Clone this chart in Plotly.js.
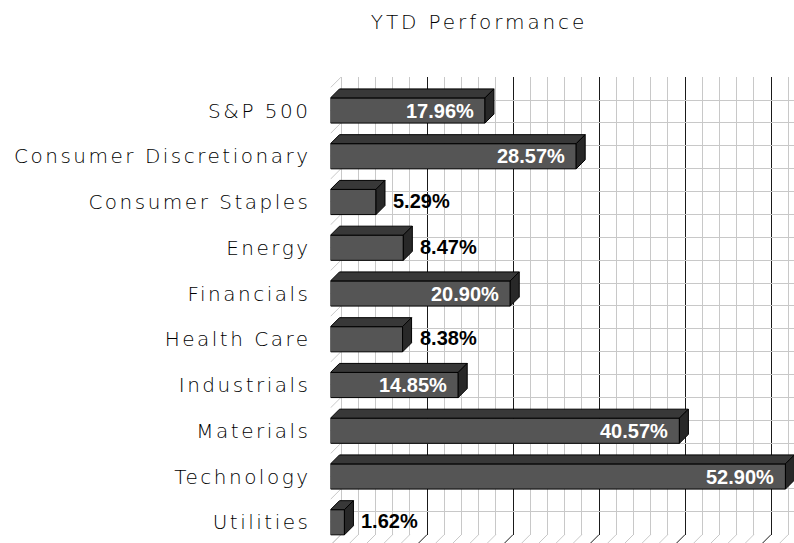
<!DOCTYPE html>
<html>
<head>
<meta charset="utf-8">
<script src="https://cdn.plot.ly/plotly-3.0.1.min.js"></script>
<style>
  html, body { margin: 0; padding: 0; background: #fff; }
  #chart { width: 794px; height: 543px; }
  .y2tick text { letter-spacing: 2.5px; }
  .gtitle { letter-spacing: 2.9px; }
</style>
</head>
<body>
<div id="chart"></div>
<script>
// ---- data ----
const categories = ['S&P 500', 'Consumer Discretionary', 'Consumer Staples', 'Energy', 'Financials',
                    'Health Care', 'Industrials', 'Materials', 'Technology', 'Utilities'];
const values = [17.96, 28.57, 5.29, 8.47, 20.90, 8.38, 14.85, 40.57, 52.90, 1.62];
const valueLabels = ['17.96%', '28.57%', '5.29%', '8.47%', '20.90%', '8.38%', '14.85%', '40.57%', '52.90%', '1.62%'];
const chartTitle = 'YTD Performance';
const majorStep = 10;
const minorStep = 2;

// ---- geometry (pixels) ----
const W = 794, H = 543;
const PX = 8.6;        // pixels per percent
const F0 = 330.5;      // front zero position
const WALL = 10.5;     // depth of the back wall
const BDEP = 9;        // depth of each bar
const CAT = 45.75;     // category spacing
const C0 = 110.5;      // centre of first category (front)
const BARH = 0.55;     // bar thickness in category units
const n = categories.length;

const WX = WALL / PX, WY = WALL / CAT;
const BX = BDEP / PX, BY = BDEP / CAT;

const xFrontMax = (W - F0) / PX;
const xBackMax = (W - F0 - WALL) / PX;
const wallTop = C0 - WALL - CAT / 2;
const wallBot = wallTop + n * CAT;

const idx = categories.map((_, i) => i);

// invisible trace so that the back-wall subplot is built
const wallAnchor = {
  type: 'scatter', mode: 'markers', x: [0], y: [0], xaxis: 'x', yaxis: 'y',
  marker: { opacity: 0, size: 1 }, hoverinfo: 'skip'
};

// front faces
const bars = {
  type: 'bar', orientation: 'h', x: values, y: idx, width: BARH,
  xaxis: 'x2', yaxis: 'y2',
  marker: { color: '#555555', line: { color: '#000000', width: 1 } },
  hoverinfo: 'skip'
};

// top and side faces
const topX = [], topY = [], sideX = [], sideY = [];
values.forEach((v, i) => {
  const y0 = i - BARH / 2, y1 = i + BARH / 2;
  topX.push(0, v, v + BX, BX, 0, null);
  topY.push(y0, y0, y0 - BY, y0 - BY, y0, null);
  sideX.push(v, v, v + BX, v + BX, v, null);
  sideY.push(y0, y1, y1 - BY, y0 - BY, y0, null);
});
const tops = {
  type: 'scatter', mode: 'lines', x: topX, y: topY, xaxis: 'x2', yaxis: 'y2',
  fill: 'toself', fillcolor: '#383838', line: { color: '#000', width: 1 }, hoverinfo: 'skip'
};
const sides = {
  type: 'scatter', mode: 'lines', x: sideX, y: sideY, xaxis: 'x2', yaxis: 'y2',
  fill: 'toself', fillcolor: '#282828', line: { color: '#000', width: 1 }, hoverinfo: 'skip'
};

// wall / floor diagonals (depth lines)
const shapes = [];
for (let b = -0.5; b <= n - 0.5 + 1e-9; b += 0.5) {
  shapes.push({ type: 'line', xref: 'x2', yref: 'y2', layer: 'below',
    x0: 0, y0: b, x1: WX, y1: b - WY, line: { color: '#c8c8c8', width: 1 } });
}
for (let g = 0; g <= xBackMax + 1e-9; g += minorStep) {
  const major = Math.abs(g % majorStep) < 1e-9 && g > 0;
  shapes.push({ type: 'line', xref: 'x2', yref: 'y2', layer: 'below',
    x0: g, y0: n - 0.5, x1: g + WX, y1: n - 0.5 - WY,
    line: { color: major ? '#1a1a1a' : '#c8c8c8', width: 1 } });
}

// value labels
const annotations = values.map((v, i) => {
  const inside = v * PX > 90;
  return {
    x: v, y: i, xref: 'x2', yref: 'y2', text: valueLabels[i], showarrow: false,
    xanchor: inside ? 'right' : 'left', xshift: inside ? -9 : 15, yshift: inside ? 0 : 1,
    font: { family: 'Liberation Sans, Arial, sans-serif', size: 20, weight: 700,
            color: inside ? '#ffffff' : '#000000' }
  };
});

const layout = {
  width: W, height: H,
  margin: { l: 0, r: 0, t: 0, b: 0, pad: 0 },
  paper_bgcolor: '#ffffff', plot_bgcolor: 'rgba(0,0,0,0)',
  showlegend: false,
  title: {
    text: chartTitle, x: 479 / W, xanchor: 'center', y: 1 - 22 / H, yanchor: 'middle',
    font: { family: 'DejaVu Sans', size: 20, color: '#000', weight: 200 }
  },
  // back wall grid
  xaxis: {
    domain: [(F0 + WALL) / W, 1], range: [0, xBackMax], anchor: 'y',
    tickmode: 'linear', tick0: 0, dtick: majorStep,
    showgrid: true, gridcolor: '#1a1a1a', gridwidth: 1,
    minor: { tickmode: 'linear', tick0: 0, dtick: minorStep, showgrid: true, gridcolor: '#c8c8c8', gridwidth: 1 },
    zeroline: true, zerolinecolor: '#c8c8c8', zerolinewidth: 1,
    showticklabels: false, ticks: '', showline: false, fixedrange: true
  },
  yaxis: {
    domain: [(H - wallBot) / H, (H - wallTop) / H], range: [n - 0.5, -0.5], anchor: 'x',
    tickmode: 'linear', tick0: -0.5, dtick: 0.5,
    showgrid: true, gridcolor: '#c8c8c8', gridwidth: 1, zeroline: false,
    showticklabels: false, ticks: '', showline: false, fixedrange: true
  },
  // front (bars)
  xaxis2: {
    domain: [F0 / W, 1], range: [0, xFrontMax], anchor: 'y2',
    showgrid: false, zeroline: false, showticklabels: false, ticks: '', showline: false, fixedrange: true
  },
  yaxis2: {
    domain: [0, 1], range: [(H - C0) / CAT, -C0 / CAT], anchor: 'x2',
    tickmode: 'array', tickvals: idx, ticktext: categories,
    tickfont: { family: 'DejaVu Sans', size: 20, color: '#000', weight: 200 },
    ticks: '', ticklabelstandoff: 19,
    showgrid: false, zeroline: false, showline: false, fixedrange: true
  },
  shapes: shapes,
  annotations: annotations
};

Plotly.newPlot('chart', [wallAnchor, bars, tops, sides], layout, { staticPlot: true, displayModeBar: false });
</script>
</body>
</html>
